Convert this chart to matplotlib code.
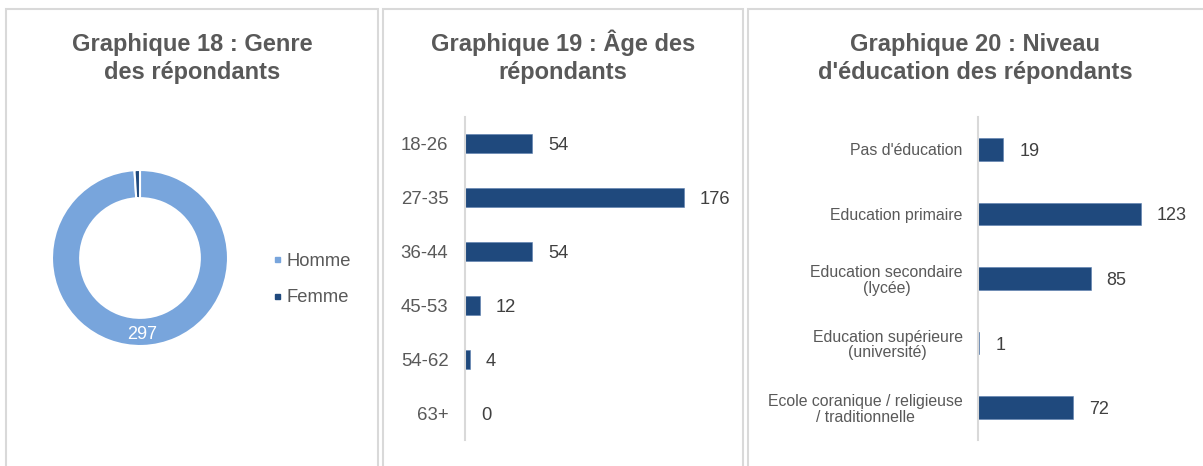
import matplotlib
matplotlib.use("Agg")
import matplotlib.pyplot as plt
from matplotlib.patches import Rectangle
from matplotlib.lines import Line2D
import numpy as np

plt.rcParams['font.family'] = ['Liberation Sans', 'DejaVu Sans']

# ---------------- data ----------------
genre_labels = ["Homme", "Femme"]
genre_values = [297, 3]

age_labels = ["18-26", "27-35", "36-44", "45-53", "54-62", "63+"]
age_values = [54, 176, 54, 12, 4, 0]

edu_labels = ["Pas d'éducation", "Education primaire", "Education secondaire\n(lycée)",
              "Education supérieure\n(université)", "Ecole coranique / religieuse\n/ traditionnelle"]
edu_values = [19, 123, 85, 1, 72]

titles = [("Graphique 18 : Genre", "des répondants"),
          ("Graphique 19 : Âge des", "répondants"),
          ("Graphique 20 : Niveau", "d'éducation des répondants")]

# ---------------- style ----------------
W, H = 1203, 466
C_LIGHT = "#78A5DC"
C_DARK = "#1F497D"
C_TEXT = "#595959"
C_VAL = "#404040"
C_BORDER = "#D9D9D9"

fig = plt.figure(figsize=(W / 100, H / 100), dpi=100)

def fx(x):
    return x / W

def fy(y):
    return 1 - y / H

def axes_px(x0, y0, x1, y1):
    return fig.add_axes([fx(x0), fy(y1), (x1 - x0) / W, (y1 - y0) / H])

# panel borders
for x0, x1 in [(5.5, 378), (383, 743), (748, 1215)]:
    fig.add_artist(Rectangle((fx(x0), fy(480)), (x1 - x0) / W, (480 - 9) / H,
                             transform=fig.transFigure, fill=False,
                             ec=C_BORDER, lw=1.5))

# titles
for cx, (l1, l2) in zip([192, 563, 975], titles):
    fig.text(fx(cx), fy(50.5), l1, ha='center', va='baseline', fontsize=17,
             fontweight='bold', color=C_TEXT)
    fig.text(fx(cx), fy(79), l2, ha='center', va='baseline', fontsize=17,
             fontweight='bold', color=C_TEXT)

# ---------------- donut ----------------
cx, cy, r = 140, 258, 88
axp = axes_px(cx - r, cy - r, cx + r, cy + r)
wedges, _ = axp.pie(genre_values, colors=[C_LIGHT, C_DARK], startangle=90,
                    counterclock=False, radius=1.0,
                    wedgeprops=dict(width=0.32, edgecolor='white', linewidth=1.5))
axp.set_xlim(-1, 1)
axp.set_ylim(-1, 1)
axp.set_aspect('equal')
axp.axis('off')
w0 = wedges[0]
mid = np.deg2rad((w0.theta1 + w0.theta2) / 2)
rr = 1 - 0.32 / 2
axp.text(rr * np.cos(mid), rr * np.sin(mid) - 0.03, str(genre_values[0]), ha='center',
         va='center', color='white', fontsize=13)

handles = [Line2D([], [], ls='none', marker='s', markersize=3.6, color=c)
           for c in [C_LIGHT, C_DARK]]
leg = fig.legend(handles, genre_labels, loc='center left',
                 bbox_to_anchor=(fx(272), fy(279.5)), frameon=False, fontsize=13.2,
                 handlelength=0.5, handletextpad=0.3,
                 borderpad=0, borderaxespad=0, labelspacing=1.05,
                 labelcolor=C_TEXT)

# ---------------- bars ----------------
def barpanel(x0, ppu, xmax, labels, values, lab_fs, val_fs, pad):
    ax = axes_px(x0, 117, x0 + ppu * xmax, 440)
    ypos = np.arange(len(values))
    ax.barh(ypos, values, height=0.35, color=C_DARK, edgecolor='#5B7FAF', linewidth=0.4)
    ax.set_ylim(len(values) - 0.5, -0.5)
    ax.set_xlim(0, xmax)
    ax.set_yticks(ypos)
    ax.set_yticklabels(labels, fontsize=lab_fs, color=C_TEXT, linespacing=1.05,
                       multialignment='center')
    ax.tick_params(axis='y', length=0, pad=pad)
    ax.set_xticks([])
    for s in ['top', 'right', 'bottom']:
        ax.spines[s].set_visible(False)
    ax.spines['left'].set_color(C_BORDER)
    ax.spines['left'].set_linewidth(1.5)
    ax.patch.set_visible(False)
    for yv, v in zip(ypos, values):
        ax.annotate(str(v), (v, yv), xytext=(16, 0), textcoords='offset pixels',
                    ha='left', va='center_baseline', fontsize=val_fs, color=C_VAL,
                    annotation_clip=False)
    return ax

barpanel(465, 1.245, 200, age_labels, age_values, 13.4, 13.2, 12)
barpanel(978, 1.325, 150, edu_labels, edu_values, 11.4, 13, 11)

fig.savefig("out.png", dpi=100, facecolor='white')
